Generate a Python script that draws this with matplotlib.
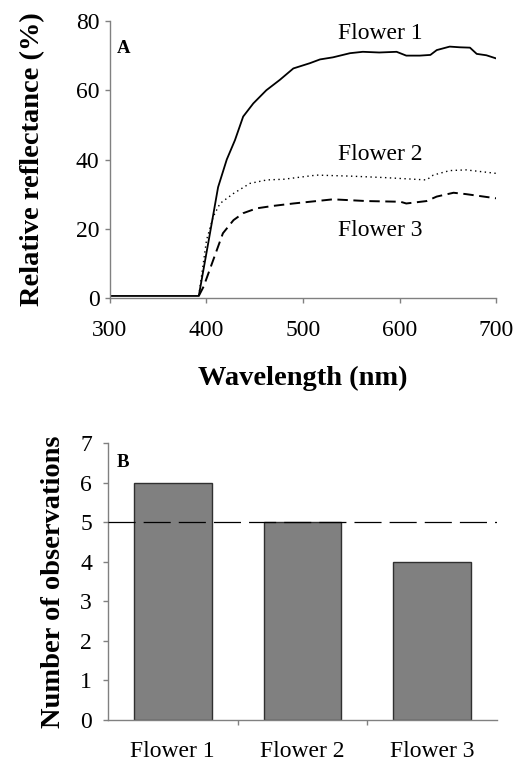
import matplotlib
matplotlib.use("Agg")
import matplotlib.pyplot as plt
import numpy as np

plt.rcParams['font.family'] = ['Liberation Serif', 'DejaVu Serif']
plt.rcParams['lines.scale_dashes'] = False

# Panel A data
wl1 = [300, 392, 403.6, 412, 421, 429.5, 438, 448.5, 462, 476, 490, 507, 517.6, 531, 548.7,
       562, 579, 597, 607, 621, 632, 638.6, 652, 662.7, 673, 680, 690, 700]
f1 = [0.6, 0.6, 18.7, 32, 40, 45.6, 52.4, 56.2, 60, 63, 66.3, 67.8, 68.9, 69.5, 70.7,
      71.1, 70.9, 71.1, 70, 70, 70.2, 71.6, 72.6, 72.4, 72.3, 70.5, 70.1, 69.2]
wl2 = [392, 400, 407, 414, 428, 445, 462.5, 480, 514, 549, 583, 628, 635, 652, 669, 700]
f2 = [0.6, 16.7, 23.5, 27.3, 30.2, 33.1, 34.1, 34.3, 35.5, 35.2, 34.8, 34.1, 35.5, 36.8, 37, 36]
wl3 = [392, 397, 407, 417, 428, 438, 452, 469, 490, 514, 531, 566, 601, 607, 628, 638.6,
       656, 669, 700]
f3 = [0.6, 3.3, 11, 18.7, 22.5, 24.5, 25.9, 26.6, 27.3, 28, 28.5, 28, 27.8, 27.3, 28, 29.3,
      30.4, 30, 28.8]
xticks_a = [300, 400, 500, 600, 700]
yticks_a = [0, 20, 40, 60, 80]

# Panel B data
categories = ['Flower 1', 'Flower 2', 'Flower 3']
counts = [6, 5, 4]
expected = 5
yticks_b = [0, 1, 2, 3, 4, 5, 6, 7]

fig = plt.figure(figsize=(5.14, 7.63), dpi=100)
spine_col = '#808080'

# ---------- Panel A ----------
axA = fig.add_axes([0.214, 0.6094, 0.751, 0.3631])
axA.plot(wl1, f1, color='black', lw=1.3)
axA.plot(wl2, f2, color='black', lw=1.0, dashes=(1.0, 2.5))
axA.plot(wl3, f3, color='black', lw=1.4, dashes=(7.5, 4))
axA.set_xlim(300, 700)
axA.set_ylim(0, 80)
axA.set_xticks(xticks_a)
axA.set_yticks(yticks_a)
for s in ['top', 'right']:
    axA.spines[s].set_visible(False)
for s in ['left', 'bottom']:
    axA.spines[s].set_color(spine_col)
    axA.spines[s].set_linewidth(1.0)
axA.tick_params(axis='both', colors=spine_col, labelcolor='black', labelsize=17,
                length=3.5, width=1.0, direction='out')
axA.tick_params(axis='x', pad=12)
axA.tick_params(axis='y', pad=4)
axA.set_xlabel('Wavelength (nm)', fontsize=20.5, fontweight='bold', labelpad=18)
axA.set_ylabel('Relative reflectance (%)', fontsize=20.5, fontweight='bold', labelpad=22)
axA.text(0.018, 0.9, 'A', transform=axA.transAxes, fontsize=13.5, fontweight='bold',
         ha='left', va='center')
axA.text(580, 76.5, 'Flower 1', fontsize=17, ha='center', va='center')
axA.text(580, 41.5, 'Flower 2', fontsize=17, ha='center', va='center')
axA.text(580, 19.5, 'Flower 3', fontsize=17, ha='center', va='center')

# ---------- Panel B ----------
axB = fig.add_axes([0.210, 0.0564, 0.757, 0.363])
xpos = np.arange(len(categories))
axB.bar(xpos, counts, width=0.6, color='#808080', edgecolor='#303030', linewidth=1.0,
        zorder=2)
axB.axhline(expected, color='black', lw=0.9, dashes=(19.5, 5.8), zorder=3)
axB.set_xlim(-0.5, 2.5)
axB.set_ylim(0, 7)
axB.set_yticks(yticks_b)
axB.set_xticks(xpos)
axB.set_xticklabels(categories)
axB.set_xticks([0.5, 1.5], minor=True)
for s in ['top', 'right']:
    axB.spines[s].set_visible(False)
for s in ['left', 'bottom']:
    axB.spines[s].set_color(spine_col)
    axB.spines[s].set_linewidth(1.0)
axB.tick_params(axis='y', colors=spine_col, labelcolor='black', labelsize=17,
                length=3.5, width=1.0, direction='out', pad=8)
axB.tick_params(axis='x', which='major', length=0, labelsize=17, pad=15)
axB.tick_params(axis='x', which='minor', colors=spine_col, length=3.5, width=1.0,
                direction='out')
axB.set_ylabel('Number of observations', fontsize=20.5, fontweight='bold', labelpad=10)
axB.text(0.022, 0.93, 'B', transform=axB.transAxes, fontsize=13.5, fontweight='bold',
         ha='left', va='center')

fig.savefig('out.png', dpi=100)
